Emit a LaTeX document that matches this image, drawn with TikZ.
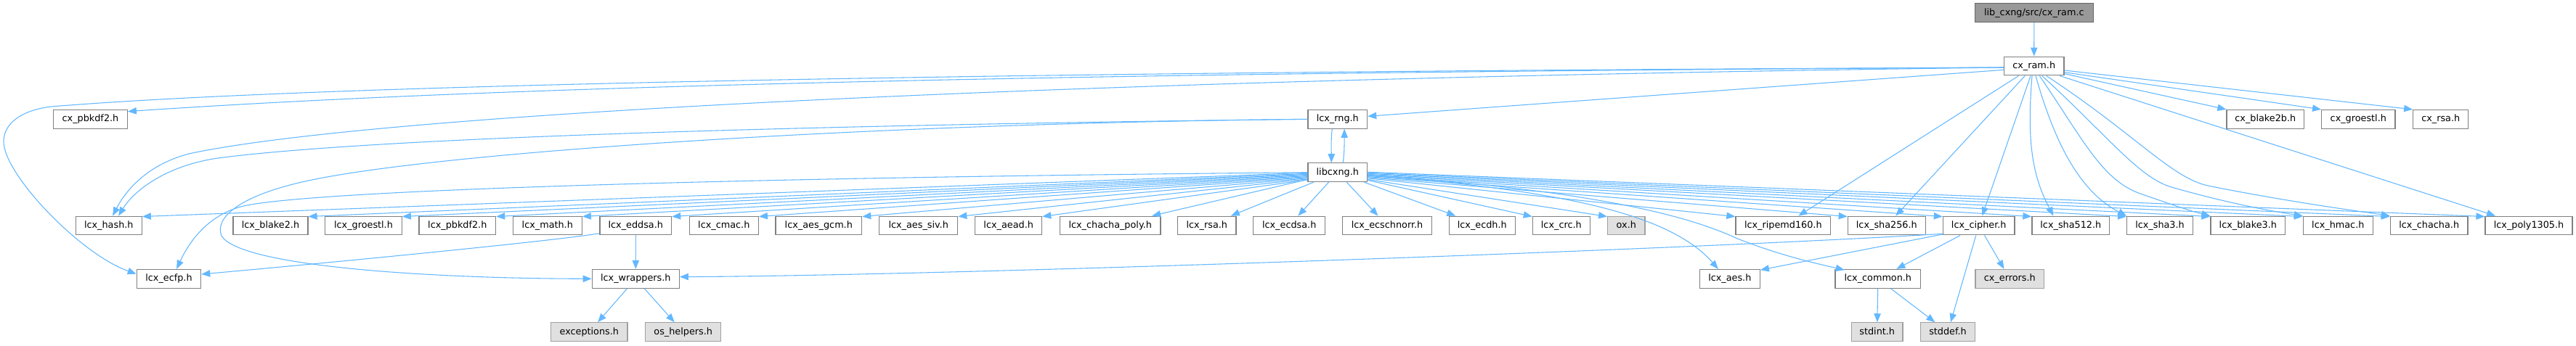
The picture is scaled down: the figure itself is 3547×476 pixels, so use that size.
\documentclass[tikz,border=0pt]{standalone}
\usepackage{fontspec}
\setmainfont{DejaVu Sans}
\usetikzlibrary{arrows.meta,calc}
\definecolor{edgec}{HTML}{63B8FF}
\definecolor{nborder}{HTML}{808080}
\definecolor{gfill}{HTML}{E0E0E0}
\definecolor{gborder}{HTML}{A0A0A0}
\definecolor{rfill}{HTML}{999999}
\definecolor{rborder}{HTML}{666666}
\tikzset{
  nb/.style={draw=nborder, fill=white, line width=0.9pt, inner sep=0pt,
    minimum height=19.3pt, text height=7pt, text depth=2pt,
    font=\fontsize{9.6pt}{11pt}\selectfont},
  gb/.style={nb, draw=gborder, fill=gfill},
  rb/.style={nb, draw=rborder, fill=rfill},
  bw/.style={minimum width={#1*0.75pt}},
  edg/.style={draw=edgec, line width=0.8pt, -{Triangle[length=9pt,width=7pt]}},
}
\begin{document}
\begin{tikzpicture}[x=0.75pt,y=-0.75pt]
\path[use as bounding box, fill=white] (0,0) rectangle (3547,476);
% row 0
\node[rb,bw=163] (root) at (2800.8,17.7) {lib\_cxng/src/cx\_ram.c};
% row 1
\node[nb,bw=82.7] (cxram) at (2800.7,91) {cx\_ram.h};
% row 2
\node[nb,bw=101.6] (cxpbkdf2) at (124.5,164.3) {cx\_pbkdf2.h};
\node[nb,bw=81.7] (rng) at (1841.8,164.3) {lcx\_rng.h};
\node[nb,bw=106.7] (cxblake2b) at (3119.3,164.3) {cx\_blake2b.h};
\node[nb,bw=101.3] (cxgroestl) at (3247.3,164.3) {cx\_groestl.h};
\node[nb,bw=76] (cxrsa) at (3360.7,164.3) {cx\_rsa.h};
% row 3
\node[nb,bw=81.7] (libcxng) at (1841.8,237.7) {libcxng.h};
% row 4
\node[nb,bw=91] (hash) at (149.8,311) {lcx\_hash.h};
\node[nb,bw=103] (blake2) at (372.5,311) {lcx\_blake2.h};
\node[nb,bw=105.6] (groestl) at (500.5,311) {lcx\_groestl.h};
\node[nb,bw=105.7] (pbkdf2) at (629.8,311) {lcx\_pbkdf2.h};
\node[nb,bw=95] (math) at (753.8,311) {lcx\_math.h};
\node[nb,bw=98.7] (eddsa) at (875.3,311) {lcx\_eddsa.h};
\node[nb,bw=95] (cmac) at (996.8,311) {lcx\_cmac.h};
\node[nb,bw=118.7] (aesgcm) at (1127.3,311) {lcx\_aes\_gcm.h};
\node[nb,bw=108] (aessiv) at (1264.7,311) {lcx\_aes\_siv.h};
\node[nb,bw=92] (aead) at (1388.7,311) {lcx\_aead.h};
\node[nb,bw=138.7] (chachapoly) at (1528.7,311) {lcx\_chacha\_poly.h};
\node[nb,bw=80.3] (rsa) at (1661.8,311) {lcx\_rsa.h};
\node[nb,bw=99] (ecdsa) at (1775.2,311) {lcx\_ecdsa.h};
\node[nb,bw=122.6] (ecschnorr) at (1910,311) {lcx\_ecschnorr.h};
\node[nb,bw=91] (ecdh) at (2040.8,311) {lcx\_ecdh.h};
\node[nb,bw=79] (crc) at (2149.8,311) {lcx\_crc.h};
\node[gb,bw=51.3] (ox) at (2239.3,311) {ox.h};
\node[nb,bw=130.7] (ripemd160) at (2455.3,311) {lcx\_ripemd160.h};
\node[nb,bw=107] (sha256) at (2597.8,311) {lcx\_sha256.h};
\node[nb,bw=98.7] (cipher) at (2724.7,311) {lcx\_cipher.h};
\node[nb,bw=106.7] (sha512) at (2851.3,311) {lcx\_sha512.h};
\node[nb,bw=90.6] (sha3) at (2974,311) {lcx\_sha3.h};
\node[nb,bw=102.7] (blake3) at (3095.3,311) {lcx\_blake3.h};
\node[nb,bw=96] (hmac) at (3219.3,311) {lcx\_hmac.h};
\node[nb,bw=106.7] (chacha) at (3344.7,311) {lcx\_chacha.h};
\node[nb,bw=120] (poly1305) at (3482,311) {lcx\_poly1305.h};
% row 5
\node[nb,bw=88.4] (ecfp) at (232.5,384.3) {lcx\_ecfp.h};
\node[nb,bw=120] (wrappers) at (875.3,384.3) {lcx\_wrappers.h};
\node[nb,bw=83] (aes) at (2381.8,384.3) {lcx\_aes.h};
\node[nb,bw=117.7] (common) at (2585.8,384.3) {lcx\_common.h};
\node[gb,bw=94.7] (errors) at (2767.3,384.3) {cx\_errors.h};
% row 6
\node[gb,bw=105.3] (exceptions) at (811.3,457.7) {exceptions.h};
\node[gb,bw=104] (oshelpers) at (940.7,457.7) {os\_helpers.h};
\node[gb,bw=70.7] (stdint) at (2584.7,457.7) {stdint.h};
\node[gb,bw=74.6] (stddef) at (2682,457.7) {stddef.h};

% ---- edges ----
\draw[edg] (root) -- (cxram);
% cx_ram.h to the far left
\draw[edg] ([yshift=-1.5pt]cxram.west) .. controls (1600,98) and (500,112) .. (70,147)
  .. controls (30,152) and (5,170) .. (5,195)
  .. controls (5,240) and (110,350) .. ([yshift=5pt]ecfp.west);
\draw[edg] ([yshift=-1.5pt]cxram.west) .. controls (1500,100) and (700,118) .. ([yshift=8pt]cxpbkdf2.east);
\draw[edg] ([yshift=-1.5pt]cxram.west) .. controls (1400,110) and (500,160) .. (260,212)
  .. controls (200,228) and (172,265) .. ([xshift=4pt]hash.north);
\draw[edg] ([yshift=-4pt]cxram.west) -- ([yshift=3pt]rng.east);
% cx_ram.h downwards
\draw[edg] (cxram) -- (ripemd160);
\draw[edg] (cxram) -- (sha256);
\draw[edg] (cxram) -- (cipher);
\draw[edg] ([xshift=-2pt]cxram.south) .. controls (2790,200) and (2800,245) .. ([xshift=-18pt]sha512.north);
\draw[edg] ([xshift=1.7pt]cxram.south) .. controls (2830,200) and (2865,265) .. (sha3.north west);
\draw[edg] ([xshift=5.7pt]cxram.south) .. controls (2870,195) and (2895,250) .. (2950,268)
  .. controls (2990,282) and (3020,292) .. (blake3.north west);
\draw[edg] ([xshift=8.2pt]cxram.south) .. controls (2900,185) and (2945,245) .. (2990,258)
  .. controls (3060,278) and (3120,290) .. (hmac.north west);
\draw[edg] ([xshift=12.7pt]cxram.south) .. controls (2940,185) and (2990,245) .. (3040,256)
  .. controls (3150,278) and (3240,290) .. (chacha.north west);
\draw[edg] ([xshift=-5pt]cxram.south east) -- ([xshift=11pt]poly1305.north west);
\draw[edg] ([yshift=-8pt]cxram.east) -- (cxblake2b.north west);
\draw[edg] ([yshift=-6.5pt]cxram.east) -- (cxgroestl.north west);
\draw[edg] ([yshift=-4.5pt]cxram.east) -- (cxrsa.north west);
% lcx_rng.h
\draw[edg] (rng.west) .. controls (1300,170) and (550,185) .. (300,218)
  .. controls (230,228) and (185,262) .. ([xshift=10pt]hash.north);
\draw[edg] (rng.west) .. controls (1200,170) and (600,210) .. (420,250)
  .. controls (330,270) and (295,300) .. (305,325)
  .. controls (330,368) and (600,384) .. (wrappers.west);
\draw[edg] ([xshift=-5.6pt]rng.south) .. controls +(-2,14) and +(0,-14) .. ([xshift=-6.4pt]libcxng.north);
\draw[edg] ([xshift=5.6pt]libcxng.north) .. controls +(2,-14) and +(0,14) .. ([xshift=7pt]rng.south);
% libcxng.h
\draw[edg] (libcxng.west) .. controls (1000,245) and (450,262) .. (340,283)
  .. controls (290,293) and (262,330) .. ([xshift=8pt]ecfp.north);
\foreach \t/\f in {hash/0.52, blake2/0.56, groestl/0.6, pbkdf2/0.64, math/0.68,
  eddsa/0.72, cmac/0.76, aesgcm/0.8, aessiv/0.84, aead/0.88}
  \draw[edg] ($(libcxng.north west)!\f!(libcxng.south west)$) -- ([yshift=-0.75pt]\t.north east);
\foreach \t in {chachapoly, rsa, ecdsa, ecschnorr, ecdh}
  \draw[edg] (libcxng) -- (\t);
\foreach \t/\f in {crc/0.9, ox/0.86, ripemd160/0.8, sha256/0.76, cipher/0.72, sha512/0.68,
  sha3/0.64, blake3/0.6, hmac/0.56, chacha/0.52, poly1305/0.48}
  \draw[edg] ($(libcxng.north east)!\f!(libcxng.south east)$) -- ([yshift=-0.75pt]\t.north west);
\draw[edg] ([yshift=-3pt]libcxng.east) .. controls (2150,262) and (2300,295) .. ([xshift=-12pt]aes.north);
\draw[edg] ([yshift=-3pt]libcxng.east) .. controls (2200,262) and (2330,300) .. (2390,328)
  .. controls (2450,352) and (2500,363) .. ([xshift=10pt,yshift=-1pt]common.north west);
% lcx_eddsa.h
\draw[edg] ([yshift=-8pt]eddsa.west) .. controls (780,330) and (500,358) .. ([yshift=4.7pt]ecfp.east);
\draw[edg] (eddsa) -- (wrappers);
% lcx_wrappers.h
\draw[edg] (wrappers) -- (exceptions);
\draw[edg] (wrappers) -- (oshelpers);
% lcx_cipher.h
\draw[edg] ([yshift=-8.5pt]cipher.west) .. controls (2300,345) and (1300,380) .. ([yshift=2pt]wrappers.east);
\draw[edg] ([yshift=-9pt]cipher.west) -- ([yshift=-1pt]aes.north east);
\draw[edg] (cipher) -- (common);
\draw[edg] (cipher) -- (stddef);
\draw[edg] (cipher) -- (errors);
% lcx_common.h
\draw[edg] (common) -- (stdint);
\draw[edg] (common) -- (stddef);
\end{tikzpicture}
\end{document}
